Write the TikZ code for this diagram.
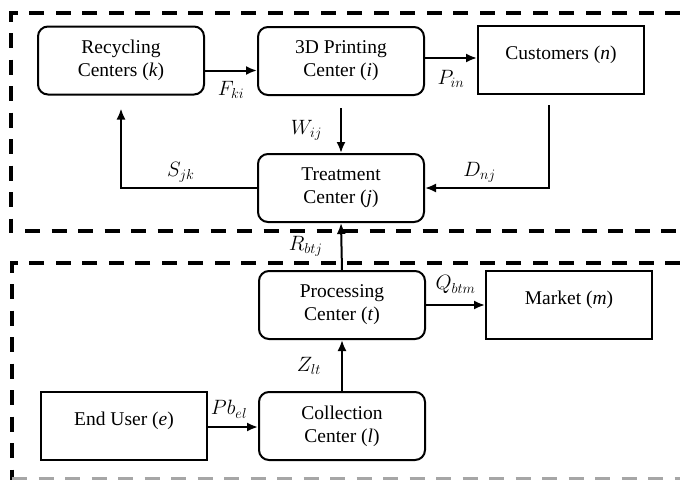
\documentclass[tikz,border=0pt]{standalone}
\usepackage{fontspec}
\setmainfont{Liberation Serif}
\usetikzlibrary{arrows.meta}
\begin{document}
\begin{tikzpicture}[x=1pt,y=-1pt,
            every node/.style={font=\rmfamily\fontsize{19.5}{23}\selectfont},
            rbox/.style={draw, line width=2pt, rounded corners=10pt, minimum width=166pt, minimum height=68pt, align=center, inner sep=0pt},
            sbox/.style={draw, line width=2pt, minimum width=166pt, minimum height=68pt, align=center, inner sep=0pt, text depth=15pt},
            flow/.style={line width=2pt, -{Latex[length=11pt,width=9pt]}},
            zone/.style={line width=3.5pt, dash pattern=on 15pt off 11.5pt},
            lbl/.style={inner sep=0pt}]
            \useasboundingbox (0,0) rectangle (680,480);
            % dashed zones
            \draw [zone] (680,13) -- (11,13) -- (11,231) -- (680,231);
            \draw [zone] (680,263) -- (12,263) -- (12,480);
            \draw [zone, gray!70, line width=3pt] (12,478) -- (680,478);
            % boxes
            \node [rbox] (rec) at (121,60.5) {Recycling\\Centers (\textit{k})};
            \node [rbox] (print) at (341,61) {3D Printing\\Center (\textit{i})};
            \node [sbox] (cust) at (561,60) {Customers (\textit{n})};
            \node [rbox] (treat) at (341,188) {Treatment\\Center (\textit{j})};
            \node [rbox] (proc) at (342,305) {Processing\\Center (\textit{t})};
            \node [sbox] (market) at (569,305) {Market (\textit{m})};
            \node [sbox] (user) at (124,426) {End User (\textit{e})};
            \node [rbox] (coll) at (342,426) {Collection\\Center (\textit{l})};
            % flows
            \draw [flow] ([yshift=-10pt]rec.east) -- node [lbl, below=10pt] (fki) {$F_{ki}$} ([yshift=-10pt]rec.east -| print.west);
            \draw [flow] ([yshift=3pt]print.east) -- node [lbl, below=11pt] (pin) {$P_{in}$} ([yshift=3pt]print.east -| cust.west);
            \draw [flow] ([yshift=-12pt]print.south) -- node [lbl, left=18pt] (wij) {$W_{ij}$} (treat.north);
            \draw [flow] (treat.west) -| node [lbl, pos=0.28, above=5pt] (sjk) {$S_{jk}$} ([yshift=-13pt]rec.south);
            \draw [flow] ([xshift=-12pt,yshift=-10pt]cust.south) |- node [lbl, pos=0.78, above=5pt] (dnj) {$D_{nj}$} (treat.east);
            \draw [flow] (proc.north) -- node [lbl, left=18pt] (rbtj) {$R_{btj}$} (treat.south);
            \draw [flow] (proc.east) -- node [lbl, above=10pt] (qbtm) {$Q_{btm}$} (market.west);
            \draw [flow] (coll.north) -- node [lbl, left=20pt] (zlt) {$Z_{lt}$} (proc.south);
            \draw [flow] ([yshift=-1pt]user.east) -- node [lbl, above=8pt, xshift=-4pt] (pbel) {$Pb_{el}$} ([yshift=-1pt]coll.west);
        \end{tikzpicture}
\end{document}
